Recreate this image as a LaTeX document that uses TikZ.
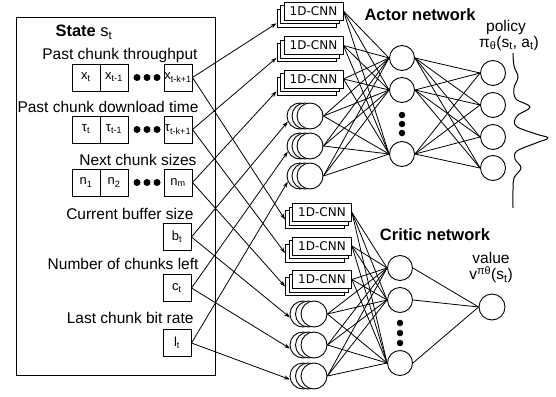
\documentclass[tikz,border=0pt]{standalone}
\usepackage{fontspec}
\setmainfont{Liberation Sans}
\newfontfamily\cnnfont{DejaVu Sans}
\usetikzlibrary{arrows.meta}
\begin{document}
\begin{tikzpicture}[x=1pt,y=-1pt,
    every node/.style={font=\fontsize{15.5}{18}\selectfont},
    cell/.style={draw,line width=1pt,minimum width=28pt,minimum height=27pt,inner sep=0pt,font=\fontsize{13}{15}\selectfont},
    cnn/.style={draw,line width=0.9pt,fill=white,minimum width=59pt,minimum height=18pt,inner sep=0pt,font=\cnnfont\fontsize{12}{14}\selectfont},
    unit/.style={draw,line width=0.9pt,fill=white,circle,minimum size=26pt,inner sep=0pt},
    neuron/.style={draw,line width=0.9pt,circle,minimum size=25pt,inner sep=0pt},
    dot/.style={fill,circle,minimum size=7pt,inner sep=0pt},
    arr/.style={-{Stealth[length=6pt,width=4pt]},line width=0.8pt},
    link/.style={line width=0.8pt}]
  \useasboundingbox (0,0) rectangle (556,396);

  % state
  \node[draw,line width=1pt,minimum width=199pt,minimum height=357pt,inner sep=0pt] (state) at (115.5,196.5) {};
  \node[anchor=west,font=\fontsize{16.5}{18}\selectfont] (title) at (52,32) {\textbf{State} s\textsubscript{t}};
  \node[anchor=east] (txt1) at (201,55) {Past chunk throughput};
  \node[anchor=east] (txt2) at (202,107) {Past chunk download time};
  \node[anchor=east] (txt3) at (200,160) {Next chunk sizes};
  \node[anchor=east] (txt4) at (197,214) {Current buffer size};
  \node[anchor=east] (txt5) at (202,264) {Number of chunks left};
  \node[anchor=east] (txt6) at (197,318) {Last chunk bit rate};

  \node[cell] (x1) at (86,77.5) {x\textsubscript{t}};
  \node[cell] (x2) at (114,77.5) {x\textsubscript{t-1}};
  \node[cell] (x3) at (178,77.5) {x\textsubscript{t-k+1}};
  \node[cell] (t1) at (86,129.5) {τ\textsubscript{t}};
  \node[cell] (t2) at (114,129.5) {τ\textsubscript{t-1}};
  \node[cell] (t3) at (178,129.5) {τ\textsubscript{t-k+1}};
  \node[cell] (n1) at (86,182.5) {n\textsubscript{1}};
  \node[cell] (n2) at (114,182.5) {n\textsubscript{2}};
  \node[cell] (n3) at (178,182.5) {n\textsubscript{m}};
  \node[cell] (bt) at (177,237) {b\textsubscript{t}};
  \node[cell] (ct) at (177,288) {c\textsubscript{t}};
  \node[cell] (lt) at (177,343) {l\textsubscript{t}};
  \foreach \y [count=\r] in {77.5,129.5,182.5}
    \foreach \x [count=\c] in {137,147,157}
      \node[dot] (dot\r\c) at (\x,\y) {};

  % actor inputs
  \foreach \i/\y in {1/11,2/45.5,3/79} {
    \node[cnn] (bac\i) at (306.5,\y+7) {};
    \node[cnn] (mac\i) at (310,\y+3.5) {};
    \node[cnn] (ac\i) at (313.5,\y) {1D-CNN};
  }
  \foreach \i/\y in {4/116,5/146,6/176} {
    \node[unit] (bac\i) at (300,\y) {};
    \node[unit] (mac\i) at (305,\y) {};
    \node[unit] (ac\i) at (310,\y) {};
  }
  % critic inputs
  \foreach \i/\y in {1/212.5,2/246,3/279.5} {
    \node[cnn] (bcr\i) at (315,\y+7) {};
    \node[cnn] (mcr\i) at (318.5,\y+3.5) {};
    \node[cnn] (cr\i) at (322,\y) {1D-CNN};
  }
  \foreach \i/\y in {4/314,5/345,6/376} {
    \node[unit] (bcr\i) at (303,\y) {};
    \node[unit] (mcr\i) at (308.5,\y) {};
    \node[unit] (cr\i) at (314,\y) {};
  }

  % hidden and output layers
  \foreach \j/\y in {1/58,2/90,3/154} \node[neuron] (ah\j) at (402,\y) {};
  \foreach \y [count=\k] in {115,124,133} \node[dot,minimum size=6.5pt] (adot\k) at (402,\y) {};
  \foreach \k/\y in {1/73,2/105,3/137,4/168} \node[neuron] (ao\k) at (493,\y) {};
  \foreach \j/\y in {1/268,2/300,3/363} \node[neuron] (ch\j) at (400,\y) {};
  \foreach \y [count=\k] in {323,333,343} \node[dot,minimum size=6.5pt] (cdot\k) at (400,\y) {};
  \node[neuron,minimum size=26pt] (co) at (492,307) {};

  \node[font=\fontsize{16.5}{18}\selectfont\bfseries] (actor) at (420,15) {Actor network};
  \node (policy) at (506,27) {policy};
  \node (pi) at (509,43) {π\textsubscript{θ}(s\textsubscript{t}, a\textsubscript{t})};
  \node[font=\fontsize{16.5}{18}\selectfont\bfseries] (critic) at (435,235) {Critic network};
  \node (value) at (491,258) {value};
  \node (vpi) at (491,275) {v\textsuperscript{πθ}(s\textsubscript{t})};

  % state to inputs
  \foreach \s/\i in {x3/1,t3/2,n3/3} {
    \draw[arr] (\s.east) -- (bac\i.190);
    \draw[arr] (\s.east) -- (bcr\i.west);
  }
  \foreach \s/\i in {bt/4,ct/5,lt/6} {
    \draw[arr] (\s.east) -- (bac\i.205);
    \draw[arr] (\s.east) -- (bcr\i.195);
  }

  % layers
  \foreach \i in {1,...,6}
    \foreach \j in {1,2,3} {
      \draw[link] (ac\i.east) -- (ah\j.west);
      \draw[link] (cr\i.east) -- (ch\j.west);
    }
  \foreach \j in {1,2,3} {
    \foreach \k in {1,...,4}
      \draw[link] (ah\j.east) -- (ao\k.west);
    \draw[link] (ch\j.east) -- (co.west);
  }

  % policy distribution
  \draw[line width=1pt] plot[smooth,tension=0.6] coordinates {(513,53) (514,66) (518,77) (514,88) (516,99) (530,107) (517,116) (516,126) (536,134) (548,138) (536,143) (517,151) (515,159) (521,168) (514,178) (513,190) (513,208)};
\end{tikzpicture}
\end{document}
